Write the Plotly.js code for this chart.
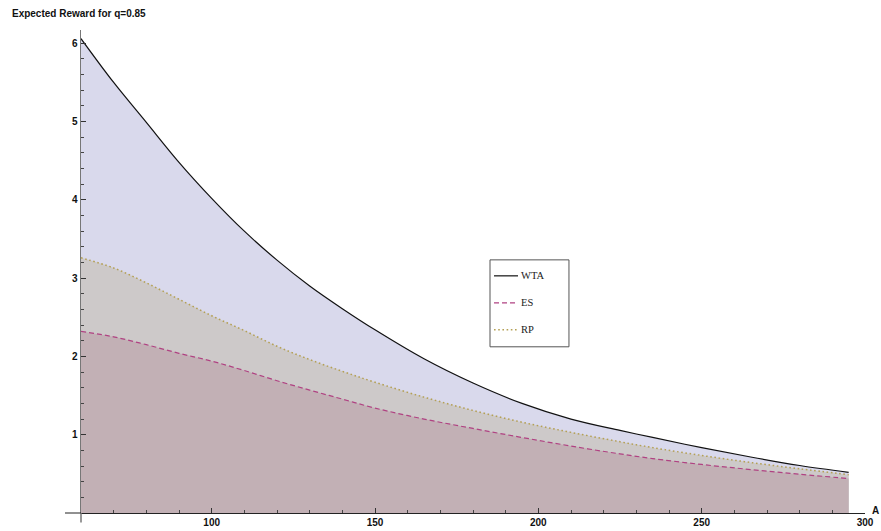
<!DOCTYPE html>
<html>
<head>
<meta charset="utf-8">
<script src="https://cdn.plot.ly/plotly-3.0.1.min.js"></script>
<style>html,body{margin:0;padding:0;background:#fff;}#chart{width:881px;height:531px;}</style>
</head>
<body>
<div id="chart"></div>
<script>
// A values (x axis)
var A = [60,70,80,90,100,110,120,130,140,150,165,180,195,210,225,235,250,265,280,295];
// Expected reward series
var WTA = [6.06,5.50,4.99,4.48,4.02,3.60,3.23,2.90,2.61,2.34,1.97,1.66,1.40,1.20,1.055,0.965,0.835,0.715,0.607,0.52];
var RP  = [3.26,3.13,2.94,2.73,2.52,2.33,2.13,1.96,1.81,1.67,1.48,1.31,1.16,1.03,0.91,0.835,0.735,0.645,0.565,0.49];
var ES  = [2.32,2.25,2.15,2.04,1.94,1.82,1.69,1.57,1.455,1.34,1.20,1.08,0.965,0.855,0.755,0.695,0.62,0.555,0.495,0.44];
var seriesNames = ["WTA","ES","RP"];
var xTicks = [100,150,200,250,300];
var yTicks = [1,2,3,4,5,6];

var fills = [
  {y: WTA, color: "rgb(217,217,236)"},
  {y: RP,  color: "rgb(205,201,201)"},
  {y: ES,  color: "rgb(194,176,181)"}
];
var traces = [];
fills.forEach(function(f){
  traces.push({x: A, y: f.y, type: "scatter", mode: "lines", fill: "tozeroy",
    fillcolor: f.color, line: {width: 0, color: f.color, shape: "spline", smoothing: 1},
    showlegend: false, hoverinfo: "skip"});
});
var lineStyles = {
  WTA: {y: WTA, color: "#111111", dash: "solid", width: 1.2},
  ES:  {y: ES,  color: "rgb(176,66,130)", dash: "5px,3px", width: 1.2},
  RP:  {y: RP,  color: "rgb(180,160,85)", dash: "1.6px,2.6px", width: 1.5}
};
seriesNames.forEach(function(n){
  var s = lineStyles[n];
  traces.push({x: A, y: s.y, type: "scatter", mode: "lines", name: n, showlegend: false,
    line: {color: s.color, width: s.width, dash: s.dash, shape: "spline", smoothing: 1}});
});

// manual legend box (paper coordinates)
var shapes = [
  {type: "line", xref: "paper", yref: "paper", x0: -0.0204, x1: 0, y0: 0, y1: 0, line: {color: "#222", width: 1}},
  {type: "line", xref: "paper", yref: "paper", x0: 0, x1: 0, y0: -0.0195, y1: 0, line: {color: "#777", width: 1.5}},
  {type: "rect", xref: "paper", yref: "paper", x0: 0.5217, x1: 0.6224, y0: 0.3441, y1: 0.5241,
   fillcolor: "#fff", line: {color: "#555", width: 1}, layer: "above"}
];
var annotations = [
  {text: "A", xref: "paper", yref: "paper", x: 1.0135, y: 0.006, xanchor: "center", yanchor: "middle",
   showarrow: false, font: {family: "Liberation Sans, Arial, sans-serif", size: 10, color: "#111", weight: "bold"}}
];
var legendY = [0.4910, 0.4351, 0.3793];
seriesNames.forEach(function(n, i){
  var s = lineStyles[n];
  shapes.push({type: "line", xref: "paper", yref: "paper", x0: 0.5268, x1: 0.5574, y0: legendY[i], y1: legendY[i],
    line: {color: s.color, width: s.width, dash: s.dash}, layer: "above"});
  annotations.push({text: n, xref: "paper", yref: "paper", x: 0.5585, y: legendY[i], xanchor: "left", yanchor: "middle",
    showarrow: false, font: {family: "Liberation Serif, Times New Roman, serif", size: 10.5, color: "#222"}});
});

var tickFont = {family: "Liberation Sans, Arial, sans-serif", size: 10, color: "#111", weight: "bold"};
var layout = {
  width: 881, height: 531,
  margin: {l: 81, r: 16, t: 30, b: 18},
  paper_bgcolor: "#fff", plot_bgcolor: "#fff",
  showlegend: false,
  title: {text: "Expected Reward for q=0.85", x: 0.0136, xanchor: "left", xref: "container",
          y: 0.974, yanchor: "middle", yref: "container",
          font: {family: "Liberation Sans, Arial, sans-serif", size: 10, color: "#111", weight: "bold"}},
  xaxis: {range: [60, 300], tickmode: "array", tickvals: xTicks, ticks: "inside", ticklen: 5,
          tickcolor: "#333", tickwidth: 1, showgrid: false, zeroline: false,
          showline: true, linecolor: "#222", linewidth: 1, tickfont: tickFont,
          minor: {tickmode: "linear", tick0: 0, dtick: 10, ticks: "inside", ticklen: 3, tickcolor: "#444", showgrid: false}},
  yaxis: {range: [0, 6.17], tickmode: "array", tickvals: yTicks, ticks: "inside", ticklen: 5,
          tickcolor: "#333", tickwidth: 1, showgrid: false, zeroline: false,
          showline: true, linecolor: "#777", linewidth: 1.5, tickfont: tickFont,
          minor: {tickmode: "linear", tick0: 0, dtick: 0.2, ticks: "inside", ticklen: 3, tickcolor: "#444", showgrid: false}},
  shapes: shapes,
  annotations: annotations
};
Plotly.newPlot("chart", traces, layout, {displayModeBar: false, staticPlot: true});
</script>
</body>
</html>
